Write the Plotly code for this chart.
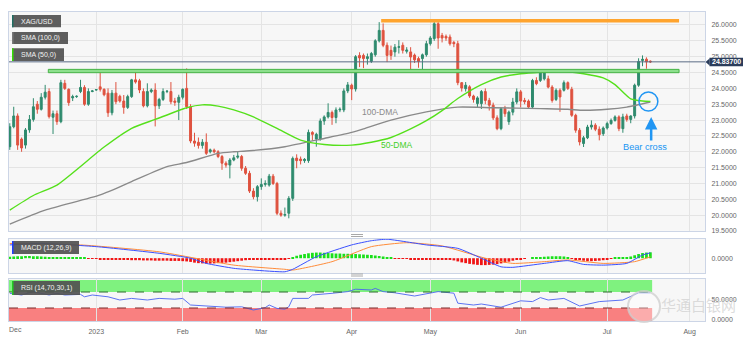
import pandas as pd
import plotly.graph_objects as go

# ---------------- data ----------------
axis_dates = [d.strftime("%Y-%m-%d") for d in pd.bdate_range("2022-12-01", "2023-08-04")]
dates = axis_dates[:164]

opens = [22.16, 22.79, 23.13, 22.40, 22.21, 22.69, 23.02, 23.50, 23.34, 23.72,
         23.90, 23.09, 23.20, 22.95, 24.16, 23.97, 23.70, 23.74, 23.90, 24.03,
         23.50, 23.90, 23.95, 24.05, 23.97, 23.85, 23.23, 23.85, 23.75, 23.60,
         23.40, 23.74, 24.27, 24.24, 23.90, 23.45, 23.90, 23.95, 23.45, 23.65,
         23.90, 23.90, 23.60, 23.56, 23.72, 24.00, 23.42, 22.34, 22.30, 22.20,
         22.30, 22.00, 22.05, 22.00, 21.85, 21.64, 21.58, 21.74, 21.83, 21.85,
         21.48, 21.32, 20.76, 20.58, 20.90, 20.97, 20.95, 21.23, 21.00, 20.06,
         20.00, 20.06, 20.53, 21.80, 21.77, 21.72, 21.72, 22.61, 22.40, 22.40,
         22.97, 23.10, 23.24, 23.08, 23.32, 23.32, 23.92, 24.10, 23.98, 25.04,
         25.04, 24.94, 24.85, 25.06, 25.50, 25.83, 25.36, 25.20, 25.15, 25.30,
         25.36, 25.17, 25.15, 25.05, 24.94, 24.94, 25.06, 25.41, 25.57, 26.04,
         25.67, 25.64, 25.62, 25.45, 25.41, 24.18, 23.99, 24.05, 23.76, 23.52,
         23.52, 23.90, 23.62, 23.47, 23.07, 22.73, 23.36, 22.95, 23.25, 23.57,
         23.89, 23.62, 23.60, 23.41, 24.25, 24.25, 24.30, 24.30, 24.04, 23.65,
         23.94, 23.94, 24.18, 23.97, 23.15, 22.68, 22.26, 22.44, 22.78, 22.84,
         22.71, 22.57, 22.75, 22.89, 22.99, 23.10, 22.73, 23.13, 23.02, 23.13,
         24.10, 24.88, 24.92, 24.86]
highs = [22.90, 23.42, 23.21, 22.45, 22.75, 23.16, 23.69, 23.60, 23.85, 24.11,
         24.00, 23.30, 23.30, 24.27, 24.27, 24.00, 23.80, 23.78, 24.27, 24.10,
         24.00, 23.95, 23.98, 24.50, 24.00, 24.00, 23.95, 24.20, 23.80, 23.79,
         23.80, 24.30, 24.50, 24.30, 24.00, 24.16, 24.00, 24.16, 23.70, 24.00,
         23.95, 24.20, 23.70, 23.80, 24.00, 24.63, 23.50, 22.60, 22.45, 22.40,
         22.58, 22.10, 22.10, 22.05, 21.90, 21.70, 21.80, 21.90, 22.00, 21.90,
         21.55, 21.40, 20.85, 20.95, 21.16, 21.10, 21.30, 21.30, 21.05, 20.15,
         20.24, 20.60, 21.85, 21.92, 21.85, 21.80, 22.70, 22.65, 22.60, 23.05,
         23.15, 23.53, 23.30, 23.40, 23.40, 24.00, 24.20, 24.15, 25.05, 25.14,
         25.10, 25.10, 25.15, 25.55, 26.09, 26.05, 25.45, 25.35, 25.40, 25.52,
         25.45, 25.30, 25.30, 25.10, 25.00, 25.10, 25.50, 25.65, 26.13, 26.10,
         25.75, 25.70, 25.70, 25.50, 25.50, 24.20, 24.20, 24.10, 23.80, 23.75,
         23.95, 24.00, 23.70, 23.55, 23.15, 23.40, 23.45, 23.30, 23.70, 24.00,
         23.95, 23.70, 23.65, 24.30, 24.35, 24.57, 24.55, 24.40, 24.10, 24.00,
         24.00, 24.25, 24.22, 24.05, 23.20, 22.75, 22.50, 22.85, 22.99, 22.90,
         22.80, 22.80, 22.95, 23.05, 23.15, 23.15, 23.20, 23.20, 23.15, 24.15,
         24.95, 25.04, 24.98, 24.88]
lows = [22.06, 22.74, 22.06, 22.00, 22.10, 22.60, 22.95, 23.20, 23.30, 23.65,
        23.05, 22.56, 22.85, 22.90, 23.95, 23.45, 23.60, 23.70, 23.85, 23.45,
        23.45, 23.88, 23.93, 23.90, 23.75, 23.10, 23.15, 23.50, 23.55, 23.20,
        23.35, 23.70, 24.15, 23.85, 23.40, 23.40, 23.85, 22.80, 23.35, 23.60,
        23.85, 23.50, 23.45, 23.00, 23.65, 23.35, 22.27, 22.16, 22.10, 22.10,
        21.90, 21.95, 21.95, 21.80, 21.43, 21.50, 21.16, 21.70, 21.78, 21.40,
        21.27, 20.70, 20.50, 20.43, 20.80, 20.90, 20.90, 20.95, 20.00, 19.95,
        19.95, 19.90, 20.45, 21.48, 21.60, 21.65, 21.65, 22.35, 22.16, 22.35,
        22.85, 23.05, 22.85, 22.90, 23.25, 23.25, 23.85, 23.63, 23.90, 24.67,
        24.64, 24.75, 24.80, 25.00, 25.45, 25.30, 24.83, 24.90, 25.00, 25.10,
        25.10, 25.10, 24.60, 24.80, 24.65, 24.60, 25.00, 25.35, 25.50, 25.25,
        25.45, 25.50, 25.35, 25.30, 24.10, 23.90, 23.90, 23.70, 23.55, 23.40,
        23.35, 23.50, 23.30, 23.00, 22.68, 22.68, 23.10, 22.85, 23.15, 23.50,
        23.40, 23.50, 23.35, 23.35, 24.10, 24.20, 24.25, 24.00, 23.55, 23.60,
        23.26, 23.90, 23.95, 23.10, 22.60, 22.20, 22.15, 22.40, 22.70, 22.65,
        22.36, 22.50, 22.70, 22.85, 22.95, 22.65, 22.60, 22.95, 22.90, 23.05,
        24.05, 24.70, 24.62, 24.80]
closes = [22.79, 23.13, 22.21, 22.12, 22.69, 23.02, 23.42, 23.34, 23.72, 23.88,
          23.11, 23.20, 22.95, 24.18, 24.00, 23.55, 23.74, 23.75, 24.03, 23.50,
          23.90, 23.92, 23.96, 23.97, 23.80, 23.23, 23.85, 23.58, 23.60, 23.40,
          23.74, 24.27, 24.20, 23.95, 23.45, 23.90, 23.95, 23.45, 23.65, 23.90,
          23.91, 23.58, 23.56, 23.72, 23.97, 23.42, 22.34, 22.27, 22.20, 22.30,
          21.95, 22.06, 22.00, 21.85, 21.64, 21.58, 21.74, 21.81, 21.86, 21.48,
          21.32, 20.76, 20.58, 20.90, 20.97, 21.00, 21.23, 21.00, 20.06, 20.00,
          20.02, 20.53, 21.79, 21.72, 21.72, 21.76, 22.61, 22.55, 22.55, 22.97,
          23.10, 23.24, 23.08, 23.32, 23.34, 23.92, 24.11, 23.98, 25.00, 24.96,
          24.94, 25.00, 25.10, 25.50, 25.83, 25.36, 25.04, 25.04, 25.30, 25.31,
          25.20, 25.21, 24.99, 24.90, 24.85, 25.06, 25.41, 25.59, 26.04, 25.59,
          25.59, 25.59, 25.41, 25.41, 24.18, 24.01, 24.10, 23.76, 23.65, 23.70,
          23.90, 23.62, 23.47, 23.07, 22.73, 23.36, 23.20, 23.25, 23.57, 23.89,
          23.60, 23.58, 23.41, 24.25, 24.15, 24.52, 24.52, 24.04, 23.62, 23.94,
          23.73, 24.18, 24.00, 23.15, 22.68, 22.31, 22.44, 22.78, 22.84, 22.71,
          22.54, 22.75, 22.89, 22.99, 23.10, 22.73, 23.10, 23.02, 23.13, 24.10,
          24.85, 24.92, 24.84, 24.837]

sma50_idx = [0, 6, 12, 24, 31, 37, 45, 49, 53, 57, 62, 68, 74, 80, 87, 92, 97, 102,
             106, 110, 114, 120, 125, 130, 135, 140, 146, 151, 154, 158, 161, 163]
sma50_val = [20.16, 20.62, 20.95, 22.15, 22.74, 23.02, 23.39, 23.48, 23.44, 23.32,
             23.10, 22.74, 22.37, 22.23, 22.21, 22.30, 22.45, 22.72, 22.98, 23.30,
             23.68, 24.12, 24.36, 24.46, 24.51, 24.54, 24.46, 24.33, 24.12, 23.67,
             23.60, 23.59]
sma100_idx = [0, 9, 23, 31, 40, 45, 53, 57, 61, 70, 80, 87, 90, 97, 106, 114, 123,
              135, 142, 146, 152, 157, 163]
sma100_val = [19.72, 20.16, 20.64, 21.06, 21.53, 21.66, 21.95, 22.00, 22.03, 22.16,
              22.42, 22.61, 22.72, 23.00, 23.26, 23.41, 23.39, 23.36, 23.34, 23.31,
              23.34, 23.41, 23.57]

macd_idx = [0, 8, 22, 38, 46, 50, 57, 62, 70, 72, 78, 87, 92, 96, 106, 114, 120,
            125, 128, 136, 142, 146, 151, 157, 161, 163]
macd_val = [0.54, 0.60, 0.47, 0.20, 0.00, -0.21, -0.41, -0.48, -0.55, -0.45, 0.06,
            0.54, 0.71, 0.77, 0.54, 0.40, 0.00, -0.35, -0.37, -0.21, -0.10, -0.25,
            -0.28, -0.21, 0.13, 0.22]
signal_idx = [0, 18, 38, 57, 70, 72, 82, 92, 101, 110, 121, 128, 136, 142, 151, 159, 163]
signal_val = [0.60, 0.54, 0.26, -0.28, -0.45, -0.48, -0.14, 0.47, 0.63, 0.50, 0.00,
              -0.21, -0.14, -0.07, -0.21, -0.14, 0.06]
hist_val = [0.06, 0.07, 0.08, 0.08, 0.09, 0.09, 0.08, 0.08, 0.07, 0.06,
            0.05, 0.04, 0.04, 0.03, 0.03, 0.02, 0.02, 0.01, 0.01, 0.01, -0.01, -0.02,
            -0.03, -0.04, -0.05, -0.05, -0.06, -0.06, -0.07, -0.07, -0.07, -0.08, -0.08,
            -0.08, -0.09, -0.09, -0.09, -0.10, -0.10, -0.10, -0.10, -0.11, -0.11, -0.11, -0.12,
            -0.13, -0.15, -0.18, -0.20, -0.21, -0.22, -0.22, -0.21, -0.20, -0.19, -0.18,
            -0.16, -0.14, -0.12, -0.10,
            -0.08, -0.07, -0.06, -0.05, -0.05, -0.04, -0.04, -0.04, -0.05, -0.05, -0.04, -0.02,
            0.04, 0.10, 0.14, 0.17, 0.20, 0.22, 0.23, 0.23, 0.22, 0.21, 0.20, 0.19, 0.19,
            0.18, 0.18, 0.17, 0.17, 0.16, 0.15, 0.14, 0.13,
            0.11, 0.09, 0.07, 0.05, 0.02,
            -0.01, -0.02, -0.03, -0.03, -0.04, -0.04, -0.04, -0.05, -0.05, -0.05, -0.05,
            -0.05, -0.06, -0.06, -0.07, -0.09,
            -0.13, -0.17, -0.20, -0.23, -0.25, -0.27, -0.28, -0.28, -0.27, -0.26, -0.24,
            -0.21, -0.18, -0.14, -0.10, -0.07, -0.04,
            -0.02, 0.00, 0.01, 0.02,
            0.04, 0.06, 0.07, 0.08, 0.08, 0.08, 0.07, 0.05,
            -0.02, -0.05, -0.08, -0.10, -0.12, -0.12, -0.11, -0.10, -0.08,
            -0.05, -0.02, 0.01, 0.03, 0.04, 0.05, 0.07,
            0.12, 0.17, 0.21, 0.23, 0.24]

rsi_idx = [0, 3, 6, 10, 12, 14, 18, 19, 21, 25, 28, 31, 35, 38, 42, 44, 46, 50, 55, 59,
           62, 65, 66, 68, 70, 71, 72, 76, 77, 82, 86, 88, 92, 93, 95, 98, 103, 109, 113,
           114, 118, 120, 125, 130, 133, 135, 137, 141, 145, 150, 153, 156, 160, 163]
rsi_val = [66.7, 62.5, 70.8, 62.5, 66.7, 62.5, 64, 58, 62.5, 58, 50, 54, 50, 54, 52, 54,
           37.5, 35, 32, 33, 25, 31, 37.5, 29, 27, 33, 54, 54, 62.5, 66.7, 71, 77, 75, 79,
           71, 68, 60, 71, 67, 42, 37.5, 40, 32, 48, 46, 56, 50, 54, 35, 46, 48, 50, 68, 68]

price_ticks = [19.5, 20.0, 20.5, 21.0, 21.5, 22.0, 22.5, 23.0, 23.5, 24.0, 24.5, 25.0, 25.5, 26.0]
tick_dates = ["2023-01-02", "2023-02-01", "2023-03-01", "2023-04-03", "2023-05-01",
              "2023-06-01", "2023-07-03", "2023-08-01"]
tick_text = ["2023", "Feb", "Mar", "Apr", "May", "Jun", "Jul", "Aug"]
last_price = 24.837
resistance_top = 26.135
support_band = [24.495, 24.60]

# ---------------- geometry helpers ----------------
W, H = 753, 342
L, R, T, B = 9, 48, 12, 21
PW, PH = W - L - R, H - T - B


def xp(px):
    return (px - L) / PW


def yp(py):
    return (H - B - py) / PH


FONT = "Liberation Sans, Arial, sans-serif"
UP, DOWN = "#2f8b6e", "#df523f"
GRID, BORDER, BG = "#e4e4e4", "#ccd5e6", "#f7f7f7"
BLUE = "#2196f3"

fig = go.Figure()

fig.add_trace(go.Candlestick(
    x=dates, open=opens, high=highs, low=lows, close=closes,
    increasing=dict(line=dict(color=UP, width=1), fillcolor=UP),
    decreasing=dict(line=dict(color=DOWN, width=1), fillcolor=DOWN),
    whiskerwidth=0, showlegend=False, xaxis="x", yaxis="y", name="XAG/USD"))

fig.add_trace(go.Scatter(x=[dates[i] for i in sma100_idx], y=sma100_val, mode="lines",
                         line=dict(color="#8a8a8a", width=1.4, shape="spline", smoothing=0.6),
                         showlegend=False, xaxis="x", yaxis="y"))
fig.add_trace(go.Scatter(x=[dates[i] for i in sma50_idx], y=sma50_val, mode="lines",
                         line=dict(color="#55e01b", width=1.4, shape="spline", smoothing=0.6),
                         showlegend=False, xaxis="x", yaxis="y"))

hist_colors = ["#19e019" if v >= 0 else "#f01414" for v in hist_val]
fig.add_trace(go.Bar(x=dates, y=hist_val, marker=dict(color=hist_colors, line=dict(width=0)),
                     width=0.7, showlegend=False, xaxis="x2", yaxis="y2"))
fig.add_trace(go.Scatter(x=[dates[i] for i in signal_idx], y=signal_val, mode="lines",
                         line=dict(color="#ff8c3a", width=1, shape="spline", smoothing=0.5),
                         showlegend=False, xaxis="x2", yaxis="y2"))
fig.add_trace(go.Scatter(x=[dates[i] for i in macd_idx], y=macd_val, mode="lines",
                         line=dict(color="#3a50ff", width=1, shape="spline", smoothing=0.5),
                         showlegend=False, xaxis="x2", yaxis="y2"))

fig.add_trace(go.Scatter(x=[dates[i] for i in rsi_idx], y=rsi_val, mode="lines",
                         line=dict(color="#4a63f0", width=0.9),
                         showlegend=False, xaxis="x3", yaxis="y3"))

xrange = [-0.2, 176.9]
xcommon = dict(type="category", categoryorder="array", categoryarray=axis_dates,
               range=xrange, showgrid=True, gridcolor=GRID, gridwidth=1,
               tickmode="array", tickvals=tick_dates, ticktext=tick_text,
               showline=True, mirror=True, linecolor=BORDER, zeroline=False,
               rangeslider=dict(visible=False), fixedrange=True, ticks="",
               automargin=False)
ycommon = dict(side="right", showline=True, mirror=True, linecolor=BORDER, zeroline=False,
               tickformat=".4f", tickfont=dict(size=7, color="#666", family=FONT),
               ticks="outside", ticklen=4, tickcolor="rgba(0,0,0,0)", fixedrange=True,
               automargin=False)

fig.update_layout(
    width=W, height=H, margin=dict(l=L, r=R, t=T, b=B),
    paper_bgcolor="white", plot_bgcolor=BG, showlegend=False, bargap=0.3,
    font=dict(family=FONT, size=7, color="#666"),
    xaxis=dict(xcommon, anchor="y", showticklabels=False),
    xaxis2=dict(xcommon, anchor="y2", matches="x", showticklabels=False),
    xaxis3=dict(xcommon, anchor="y3", matches="x", showticklabels=True,
                ticklabelstandoff=4,
                tickfont=dict(size=7, color="#666", family=FONT)),
    yaxis=dict(ycommon, domain=[yp(231), 1], range=[19.5, 26.41], tickvals=price_ticks,
               showgrid=True, gridcolor=GRID),
    yaxis2=dict(ycommon, domain=[yp(273), yp(239)], range=[-0.6, 0.78], tickvals=[0],
                showgrid=False),
    yaxis3=dict(ycommon, domain=[0, yp(279)], range=[-2.5, 102.5], tickvals=[0, 50],
                showgrid=False),
)

shapes = []
# RSI zones
shapes.append(dict(type="rect", xref="x3", yref="y3", x0=-0.2, x1=163.45, y0=70, y1=100,
                   fillcolor="#7ff27f", line=dict(width=0), layer="below"))
shapes.append(dict(type="rect", xref="x3", yref="y3", x0=-0.2, x1=163.45, y0=-2.5, y1=30,
                   fillcolor="#f98080", line=dict(width=0), layer="below"))
shapes.append(dict(type="line", xref="x3", yref="y3", x0=-0.2, x1=163.45, y0=70, y1=70,
                   line=dict(color="#2d6b2d", width=1, dash="dash")))
shapes.append(dict(type="line", xref="x3", yref="y3", x0=-0.2, x1=163.45, y0=30, y1=30,
                   line=dict(color="#7a2a2a", width=1, dash="dash")))
# support band and resistance line
shapes.append(dict(type="rect", xref="x", yref="y", x0=9.8, x1=170.3,
                   y0=support_band[0], y1=support_band[1],
                   fillcolor="#8ddf8d", line=dict(color="#46b346", width=1)))
shapes.append(dict(type="line", xref="x", yref="y", x0=94.5, x1=170.3,
                   y0=resistance_top, y1=resistance_top,
                   line=dict(color="#ffa42e", width=3.5)))
# last price line
shapes.append(dict(type="line", xref="paper", yref="y", x0=0, x1=1,
                   y0=last_price, y1=last_price, line=dict(color="#5b6b85", width=1)))
# bear-cross circle
shapes.append(dict(type="circle", xref="x", yref="y", x0=160.1, x1=164.9, y0=23.286, y1=23.886,
                   line=dict(color=BLUE, width=1.5)))

# legend boxes
boxes = [
    ("XAG/USD", 12, 61, 15, 27.3, "#1f6e62"),
    ("SMA (100,0)", 12, 68, 32, 44, "#7a7a7a"),
    ("SMA (50,0)", 12, 64, 48.3, 61, "#33dd00"),
    ("MACD (12,26,9)", 12, 79, 241, 254, "#1f3cff"),
    ("RSI (14,70,30,1)", 12, 80, 281, 295, "#22cc22"),
]
annotations = []
for text, x0, x1, y0, y1, acc in boxes:
    shapes.append(dict(type="rect", xref="paper", yref="paper", x0=xp(x0), x1=xp(x1),
                       y0=yp(y1), y1=yp(y0), fillcolor="rgba(82,82,82,0.93)",
                       line=dict(width=0), layer="above"))
    shapes.append(dict(type="rect", xref="paper", yref="paper", x0=xp(x0), x1=xp(x0 + 1.5),
                       y0=yp(y1), y1=yp(y0), fillcolor=acc, line=dict(width=0), layer="above"))
    annotations.append(dict(xref="paper", yref="paper", x=xp(x0 + 7), y=yp((y0 + y1) / 2),
                            xanchor="left", yanchor="middle", showarrow=False, text=text,
                            font=dict(size=7, color="#f2f2f2", family=FONT)))

# drag handles
for yy in (234.5, 236.5, 274, 276):
    shapes.append(dict(type="line", xref="paper", yref="paper", x0=xp(351), x1=xp(363),
                       y0=yp(yy), y1=yp(yy), line=dict(color="#a8a8a8", width=1)))

# last price box
shapes.append(dict(type="rect", xref="paper", yref="paper", x0=xp(709.5), x1=xp(743),
                   y0=yp(66.3), y1=yp(57.7), fillcolor="#2b3d5b", line=dict(width=0)))
shapes.append(dict(type="path", xref="paper", yref="paper",
                   path=f"M {xp(705.5)},{yp(62)} L {xp(709.6)},{yp(58.5)} L {xp(709.6)},{yp(65.5)} Z",
                   fillcolor="#2b3d5b", line=dict(width=0)))
annotations.append(dict(xref="paper", yref="paper", x=xp(726.3), y=yp(62), showarrow=False,
                        text="<b>24.83700</b>", xanchor="center", yanchor="middle",
                        font=dict(size=7, color="white", family=FONT)))

# watermark
shapes.append(dict(type="circle", xref="paper", yref="paper", x0=xp(628), x1=xp(660),
                   y0=yp(322), y1=yp(291), fillcolor="rgba(255,255,255,0.35)",
                   line=dict(color="rgba(205,205,205,0.75)", width=2)))
annotations.append(dict(xref="paper", yref="paper", x=xp(698), y=yp(304), showarrow=False,
                        text="华通白银网", xanchor="center", yanchor="middle",
                        font=dict(size=15, color="rgba(205,205,205,0.7)",
                                  family="Noto Sans CJK SC")))

# chart labels
annotations += [
    dict(xref="x", yref="y", x=94.2, y=23.255, text="100-DMA", showarrow=False,
         font=dict(size=8.5, color="#8a8a8a", family=FONT)),
    dict(xref="x", yref="y", x=98.65, y=22.213, text="50-DMA", showarrow=False,
         font=dict(size=8.5, color="#3fcf1f", family=FONT)),
    dict(xref="x", yref="y", x=161.6, y=22.135, text="Bear cross", showarrow=False,
         font=dict(size=9.2, color=BLUE, family=FONT)),
    dict(xref="x", yref="y", x=163.2, y=23.097, text="", showarrow=True, ax=0, ay=25,
         arrowhead=2, arrowsize=1, arrowwidth=2.5, arrowcolor=BLUE),
    dict(xref="paper", yref="paper", x=xp(15.5), y=yp(329), text="Dec", showarrow=False,
         xanchor="center", yanchor="middle",
         font=dict(size=7, color="#666", family=FONT)),
]

fig.update_layout(shapes=shapes, annotations=annotations)
fig.write_html("out.html")
